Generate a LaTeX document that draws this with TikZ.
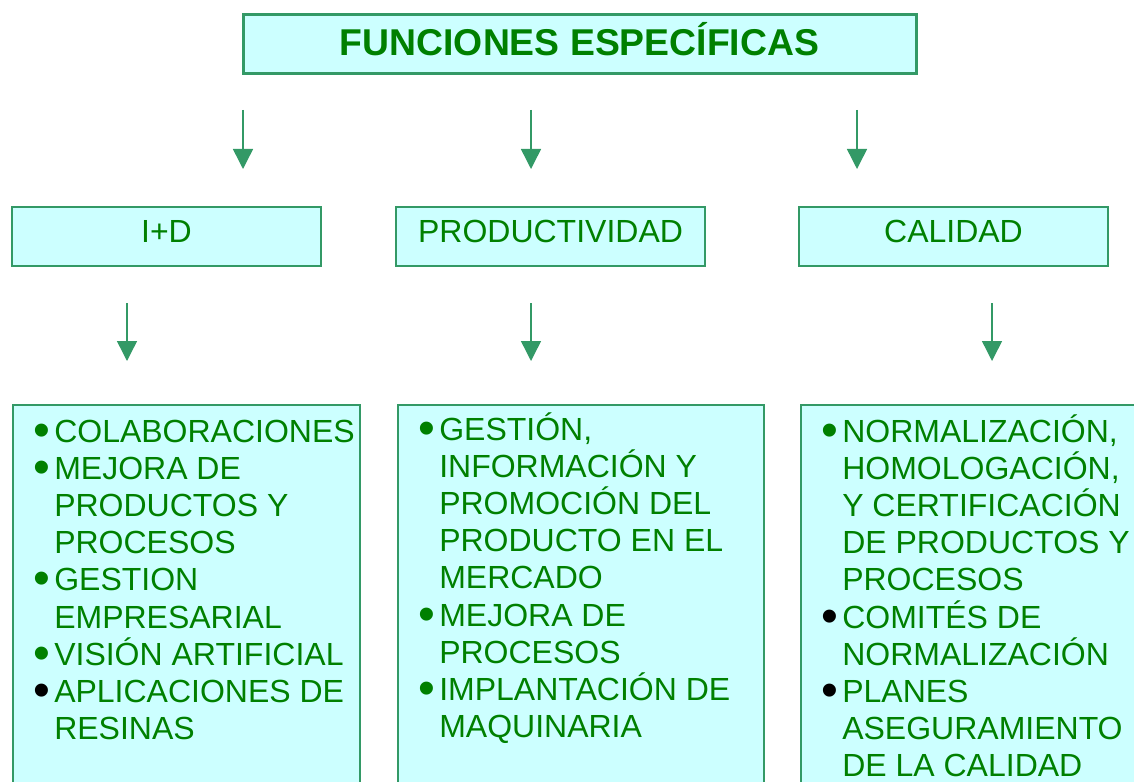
\documentclass[tikz,border=0pt]{standalone}
\usepackage{fontspec}
\setmainfont{Liberation Sans}
\usepackage{graphicx}
\usetikzlibrary{arrows.meta}

\definecolor{verde}{HTML}{008000}
\definecolor{borde}{HTML}{339966}
\definecolor{celeste}{HTML}{CCFFFF}

% bullet item with hanging indent
\newcommand{\vineta}[2][verde]{\par\hangindent=15.75pt\hangafter=1\noindent
  \makebox[15.75pt][l]{\textcolor{#1}{\raisebox{-3pt}{\scalebox{1.5}{\textbullet}}}}#2}

\begin{document}
\begin{tikzpicture}[x=0.75pt, y=-0.75pt,
    caja/.style={draw=borde, fill=celeste, line width=1.5pt, inner sep=0pt},
    rotulo/.style={text=verde, font=\fontsize{24}{28}\selectfont, text height=17.2pt, text depth=7.5pt},
    lista/.style={text=verde, inner sep=0pt, font=\fontsize{24}{27.9}\selectfont},
    flecha/.style={draw=borde, line width=1.1pt, -{Triangle[width=15pt,length=15pt]}}]
  \clip (0,0) rectangle (1134,781);

  % title
  \node[caja, line width=2.25pt, minimum width=504.75pt, minimum height=44.25pt,
    text=verde, font=\fontsize{28}{33}\selectfont\bfseries,
    text height=20pt, text depth=3pt] (titulo) at (579.5,44.5) {FUNCIONES ESPECÍFICAS};

  % first row of arrows
  \foreach \x/\n in {243/a,531/b,857/c}{
    \coordinate (s\n) at (\x,110);
    \coordinate (e\n) at (\x,169);
    \draw[flecha] (s\n) -- (e\n);
  }

  % the three areas
  \node[caja, rotulo, minimum width=231.75pt, minimum height=44.25pt] (id) at (166.5,236.5) {I+D};
  \node[caja, rotulo, minimum width=231.75pt, minimum height=44.25pt] (prod) at (550.5,236.5) {PRODUCTIVIDAD};
  \node[caja, rotulo, minimum width=231.75pt, minimum height=44.25pt] (cal) at (953.5,236.5) {CALIDAD};

  % second row of arrows
  \foreach \x/\n in {127/d,531/e,992/f}{
    \coordinate (s\n) at (\x,303);
    \coordinate (e\n) at (\x,361);
    \draw[flecha] (s\n) -- (e\n);
  }

  % boxes with the lists
  \node[caja, anchor=north west, minimum width=260.25pt, minimum height=300pt] (cajaid) at (12,404) {};
  \node[caja, anchor=north west, minimum width=274.5pt, minimum height=300pt] (cajaprod) at (397,404) {};
  \node[caja, anchor=north west, minimum width=262.5pt, minimum height=300pt] (cajacal) at (800,404) {};

  \node[lista, anchor=base west] (listaid) at (33,442) {\parbox[t]{250pt}{\raggedright\let\\\newline
    \vineta{COLABORACIONES}
    \vineta{MEJORA DE\\PRODUCTOS Y\\PROCESOS}
    \vineta{GESTION\\EMPRESARIAL}
    \vineta{VISIÓN ARTIFICIAL}
    \vineta[black]{APLICACIONES DE\\RESINAS}}};

  \node[lista, anchor=base west] (listaprod) at (418,440) {\parbox[t]{250pt}{\raggedright\let\\\newline
    \vineta{GESTIÓN,\\INFORMACIÓN Y\\PROMOCIÓN DEL\\PRODUCTO EN EL\\MERCADO}
    \vineta{MEJORA DE\\PROCESOS}
    \vineta{IMPLANTACIÓN DE\\MAQUINARIA}}};

  \node[lista, anchor=base west] (listacal) at (821,442) {\parbox[t]{250pt}{\raggedright\let\\\newline
    \vineta{NORMALIZACIÓN,\\HOMOLOGACIÓN,\\Y CERTIFICACIÓN\\DE PRODUCTOS Y\\PROCESOS}
    \vineta[black]{COMITÉS DE\\NORMALIZACIÓN}
    \vineta[black]{PLANES\\ASEGURAMIENTO\\DE LA CALIDAD}}};
\end{tikzpicture}
\end{document}
